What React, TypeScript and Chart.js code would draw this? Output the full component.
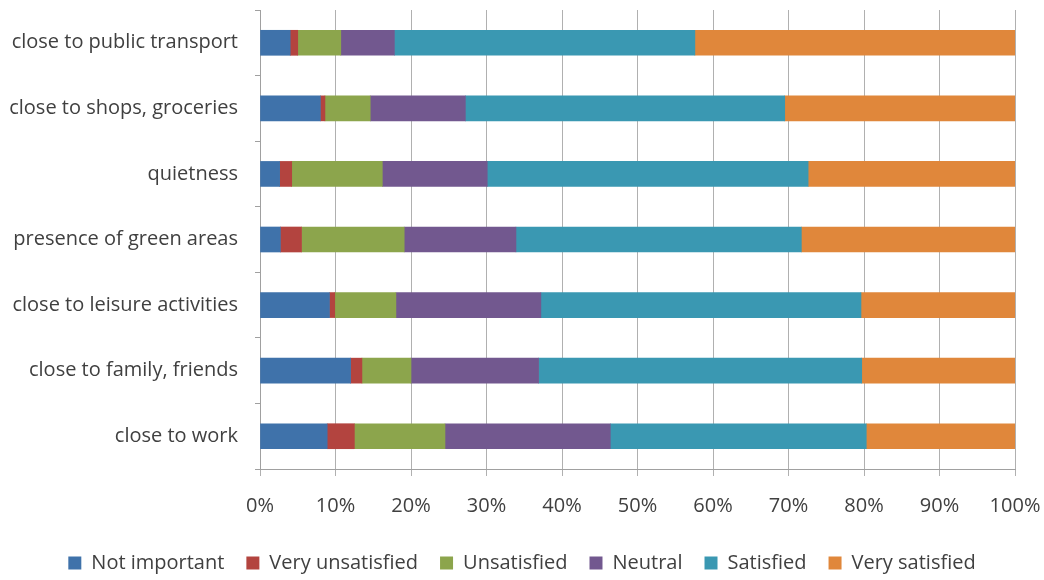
import React, { useEffect, useRef } from "react";
import { Chart, registerables } from "chart.js";

Chart.register(...registerables);

const categories = [
  "close to public transport",
  "close to shops, groceries",
  "quietness",
  "presence of green areas",
  "close to leisure activities",
  "close to family, friends",
  "close to work",
];

const notImportant = [4.0, 8.0, 2.6, 2.7, 9.2, 12.0, 8.9];
const veryUnsatisfied = [1.0, 0.6, 1.6, 2.8, 0.7, 1.5, 3.6];
const unsatisfied = [5.7, 6.0, 12.0, 13.6, 8.1, 6.5, 12.0];
const neutral = [7.1, 12.6, 13.9, 14.8, 19.2, 16.9, 21.9];
const satisfied = [39.8, 42.3, 42.5, 37.8, 42.4, 42.8, 33.9];
const verySatisfied = [42.4, 30.5, 27.4, 28.3, 20.4, 20.3, 19.7];

const seriesNames = [
  "Not important",
  "Very unsatisfied",
  "Unsatisfied",
  "Neutral",
  "Satisfied",
  "Very satisfied",
];
const seriesColors = ["#3F72AA", "#B3443F", "#8CA54C", "#72588F", "#3A98B2", "#E0873B"];
const seriesValues = [notImportant, veryUnsatisfied, unsatisfied, neutral, satisfied, verySatisfied];

const FONT = "'Open Sans', sans-serif";
const TEXT = "#404040";

export default function App() {
  const ref = useRef<HTMLCanvasElement | null>(null);
  useEffect(() => {
    if (!ref.current) return;
    const chart = new Chart(ref.current, {
      type: "bar",
      data: {
        labels: categories,
        datasets: seriesNames.map((name, i) => ({
          label: name,
          data: seriesValues[i],
          backgroundColor: seriesColors[i],
          borderWidth: 0,
          barThickness: 25,
        })),
      },
      options: {
        indexAxis: "y",
        responsive: false,
        animation: false,
        layout: { padding: { top: 10, right: 0, left: 0, bottom: 0 } },
        scales: {
          x: {
            stacked: true,
            min: 0,
            max: 100,
            ticks: {
              stepSize: 10,
              callback: (v: any) => v + "%",
              color: TEXT,
              font: { family: FONT, size: 20 },
              padding: 18,
              maxRotation: 0,
            },
            grid: { color: "#b0b0b0", lineWidth: 1, drawTicks: true, tickLength: 7, tickColor: "#b0b0b0" },
            border: { display: true, color: "#a0a0a0" },
            afterFit: (s: any) => {
              s.height = 62;
              s.paddingLeft = 0;
              s.paddingRight = 29;
            },
          },
          y: {
            stacked: true,
            ticks: {
              color: TEXT,
              font: { family: FONT, size: 20 },
              padding: 17,
            },
            grid: { drawOnChartArea: false, drawTicks: true, tickLength: 5, color: "#a0a0a0", offset: true },
            border: { display: true, color: "#a0a0a0" },
            afterFit: (s: any) => {
              s.width = 260;
              s.paddingTop = 0;
              s.paddingBottom = 0;
            },
          },
        },
        plugins: {
          legend: {
            position: "bottom",
            maxHeight: 49,
            labels: {
              color: TEXT,
              font: { family: FONT, size: 20 },
              boxWidth: 13,
              boxHeight: 13,
              padding: 22,
            },
          },
          tooltip: { enabled: false },
        },
      } as any,
    });
    return () => chart.destroy();
  }, []);
  return (
    <div style={{ position: "absolute", left: 0, top: 0, width: 1044, height: 580, background: "#fff" }}>
      <canvas ref={ref} width={1044} height={580} style={{ display: "block" }} />
    </div>
  );
}
